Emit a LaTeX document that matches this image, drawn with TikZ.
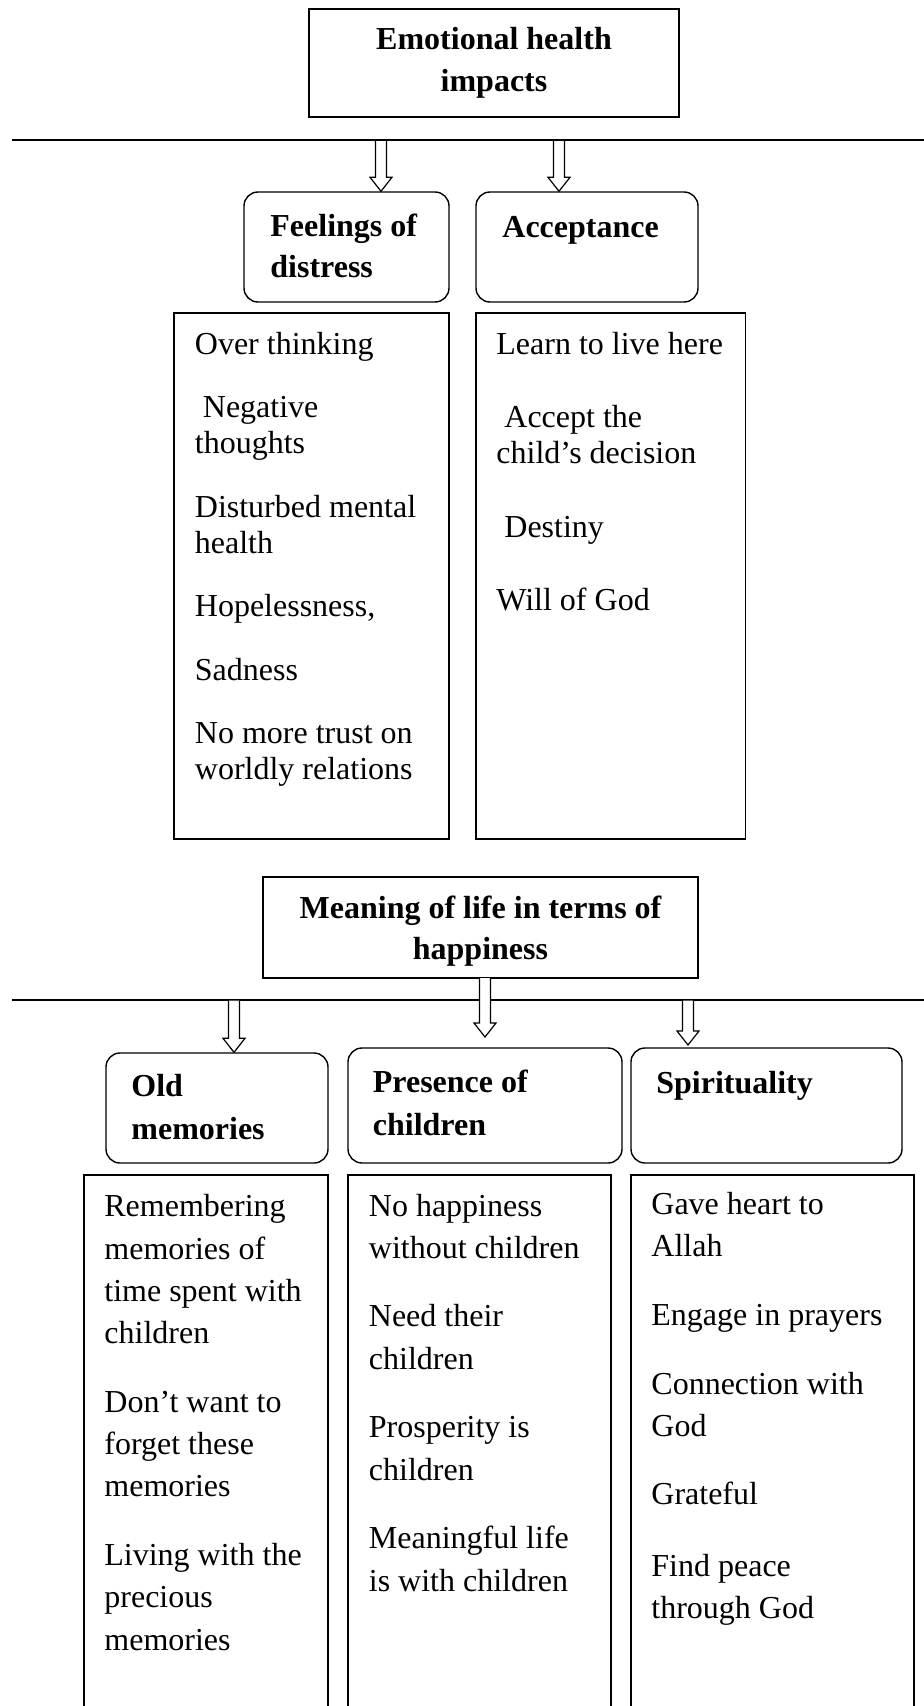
\documentclass[tikz,border=0pt]{standalone}
\usepackage{fontspec}
\setmainfont{Liberation Serif}
\usetikzlibrary{calc,positioning}

% hollow block arrow from a start point down to its tip
\newcommand{\hollowarrow}[2]{%
  \draw[arrowbody] ($(#1)+(-5.5,0)$) -- ($(#2)+(-5.5,-14)$) -- ($(#2)+(-11,-14)$) -- (#2)
    -- ($(#2)+(11,-14)$) -- ($(#2)+(5.5,-14)$) -- ($(#1)+(5.5,0)$);}

\tikzset{
  titlebox/.style={draw, line width=0.8pt, inner sep=0pt, align=center,
    font=\fontsize{16}{20.75}\selectfont\bfseries},
  headbox/.style={draw, rounded corners=7pt, line width=0.7pt, inner sep=0pt},
  listbox/.style={draw, line width=0.7pt, inner sep=0pt},
  headtext/.style={anchor=base west, inner sep=0pt, align=left},
  listtext/.style={anchor=base west, inner sep=0pt, align=left},
  rule/.style={line width=1pt},
  arrowbody/.style={draw, fill=white, line width=0.6pt}
}

\begin{document}
\begin{tikzpicture}[x=0.5pt, y=-0.5pt]
\useasboundingbox (0,0) rectangle (924,1706);

% first part
\node[titlebox, minimum width=185pt, minimum height=54pt] (emo) at (494,63) {Emotional health\\impacts};
\coordinate (l1a) at (12,140);
\coordinate (l1b) at (924,140);

\node[headbox, minimum width=102.5pt, minimum height=55pt] (feel) at (346.5,247) {};
\node[headbox, minimum width=111pt, minimum height=55pt] (acc) at (587,247) {};
% text nodes sit on the baseline of their last line
\node[headtext, font=\fontsize{16}{20.5}\selectfont\bfseries] (feeltxt) at (270,278) {Feelings of\\distress};
\node[headtext, font=\fontsize{16}{20.5}\selectfont\bfseries] (acctxt) at (502,238) {Acceptance};

\coordinate (s1) at (381,140);
\coordinate (s2) at (559,140);
\hollowarrow{s1}{s1 |- feel.north}
\hollowarrow{s2}{s2 |- acc.north}
\draw[rule] (l1a) -- (l1b);

\node[listbox, minimum width=137.5pt, minimum height=263pt] (feellist) at (311.5,576) {};
\node[listbox, minimum width=134.75pt, minimum height=263pt] (acclist) at (610.75,576) {};
\node[listtext, font=\fontsize{16}{18}\selectfont] (feelitems) at (194.5,779.5)
  {Over thinking\\[13.75pt]\ Negative\\thoughts\\[13.75pt]Disturbed mental\\health\\[13.75pt]Hopelessness,\\[13.75pt]Sadness\\[13.75pt]No more trust on\\worldly relations};
\node[listtext, font=\fontsize{16}{18}\selectfont] (accitems) at (496,610.5)
  {Learn to live here\\[18.75pt]\ Accept the\\child’s decision\\[18.75pt]\ Destiny\\[18.75pt]Will of God};

% second part
\node[titlebox, minimum width=217.5pt, minimum height=50.5pt] (mean) at (480.5,927.5) {\rule{0pt}{15pt}Meaning of life in terms of\\happiness};
\coordinate (l2a) at (12,1000);
\coordinate (l2b) at (924,1000);
\draw[rule] (l2a) -- (l2b);

\node[headbox, minimum width=111pt, minimum height=55pt] (old) at (217,1108) {};
\node[headbox, minimum width=137pt, minimum height=57.5pt] (pres) at (485,1105.5) {};
\node[headbox, minimum width=135.5pt, minimum height=57.5pt] (spir) at (766.5,1105.5) {};
\node[headtext, font=\fontsize{16}{21.25}\selectfont\bfseries] (oldtxt) at (131,1139) {Old\\memories};
\node[headtext, font=\fontsize{16}{21.25}\selectfont\bfseries] (prestxt) at (372.5,1135) {Presence of\\children};
\node[headtext, font=\fontsize{16}{21.25}\selectfont\bfseries] (spirtxt) at (656,1093) {Spirituality};

\coordinate (s3) at (234,1000.5);
\coordinate (s4) at (485,978);
\coordinate (t4) at (485,1037);
\coordinate (s5) at (688,1000.5);
\coordinate (t5) at (688,1045);
\hollowarrow{s3}{s3 |- old.north}
\hollowarrow{s4}{t4}
\hollowarrow{s5}{t5}

\node[listbox, minimum width=122pt, minimum height=272.5pt] (oldlist) at (206,1447.5) {};
\node[listbox, minimum width=131.5pt, minimum height=272.5pt] (preslist) at (479.5,1447.5) {};
\node[listbox, minimum width=141.5pt, minimum height=272.5pt] (spirlist) at (772.5,1447.5) {};
\node[listtext, font=\fontsize{16}{21.15}\selectfont] (olditems) at (104,1650)
  {Remembering\\memories of\\time spent with\\children\\[13.15pt]Don’t want to\\forget these\\memories\\[13.15pt]Living with the\\precious\\memories};
\node[listtext, font=\fontsize{16}{21.15}\selectfont] (presitems) at (368.5,1591)
  {No happiness\\without children\\[13.15pt]Need their\\children\\[13.15pt]Prosperity is\\children\\[13.15pt]Meaningful life\\is with children};
\node[listtext, font=\fontsize{16}{21.15}\selectfont] (spiritems) at (651,1618.5)
  {Gave heart to\\Allah\\[13.15pt]Engage in prayers\\[13.15pt]Connection with\\God\\[13.15pt]Grateful\\[14.5pt]Find peace\\through God};
\end{tikzpicture}
\end{document}
